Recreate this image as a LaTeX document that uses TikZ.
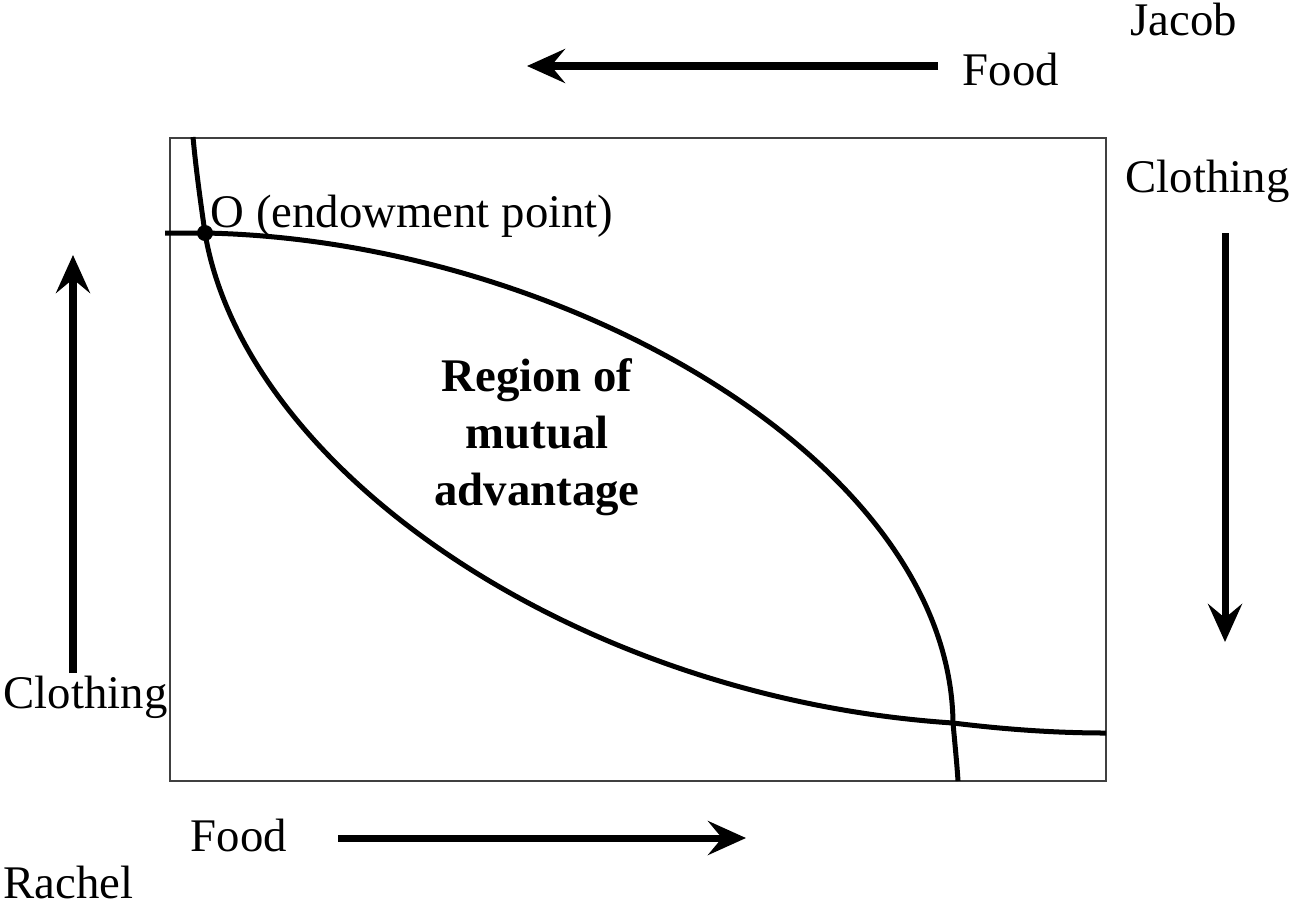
\documentclass[tikz,border=0pt]{standalone}
\usepackage{fontspec}
\setmainfont{Liberation Serif}
\usetikzlibrary{arrows.meta}
\begin{document}
\begin{tikzpicture}[x=0.01cm,y=-0.01cm,
  lbl/.style={inner sep=0pt, font=\fontsize{13.3}{16.2}\selectfont},
  bigarrow/.style={line width=0.07cm, -{Stealth[length=0.38cm,width=0.34cm,inset=0.14cm]}},
  curve/.style={line width=0.05cm, line join=round},
  frame/.style={line width=0.02cm, draw=black!75}]
\useasboundingbox (0,0) rectangle (1292,903);
% frame
\draw[frame] (170,138) rectangle (1106,781);
% key points
\coordinate (O) at (205,233);
\coordinate (X) at (953,723);
\coordinate (a0) at (193,137);
\coordinate (a1) at (1106,733);
\coordinate (b0) at (165,233);
\coordinate (b1) at (958,781);
% curves
\draw[curve] (a0) .. controls (196,170) and (201,205) .. (O)
  .. controls (245,470) and (575,698) .. (X)
  .. controls (1010,730) and (1060,733) .. (a1);
\draw[curve] (b0) -- (O)
  .. controls (560,240) and (950,460) .. (X)
  .. controls (955,745) and (957,765) .. (b1);
% endowment point
\fill (O) circle[radius=0.08cm];
% labels
\node[lbl, anchor=base west] (jacob) at (1130,35) {Jacob};
\node[lbl, anchor=base west] (foodT) at (962,85) {Food};
\node[lbl, anchor=base west] (clothR) at (1125,192) {Clothing};
\node[lbl, anchor=base west] (endow) at (210,227) {O (endowment point)};
\node[lbl, anchor=base west] (clothL) at (3,708) {Clothing};
\node[lbl, anchor=base west] (foodB) at (190,851) {Food};
\node[lbl, anchor=base west] (rachel) at (3,898) {Rachel};
\node[lbl, align=center, font=\fontsize{13.3}{16.2}\selectfont\bfseries] (region) at (537,437) {Region of\\mutual\\advantage};
% arrows
\coordinate (t1) at (938,66); \coordinate (t2) at (527,66);
\coordinate (b1a) at (338,838); \coordinate (b2a) at (746,838);
\coordinate (l1) at (73,673); \coordinate (l2) at (73,255);
\coordinate (r1) at (1225,233); \coordinate (r2) at (1225,642);
\draw[bigarrow] (t1) -- (t2);
\draw[bigarrow] (b1a) -- (b2a);
\draw[bigarrow] (l1) -- (l2);
\draw[bigarrow] (r1) -- (r2);
\end{tikzpicture}
\end{document}
